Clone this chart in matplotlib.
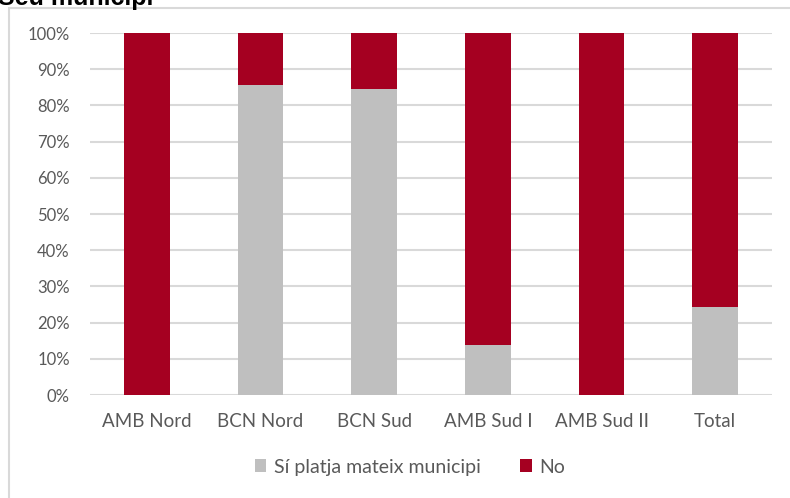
import numpy as np
import matplotlib.pyplot as plt
import matplotlib.patches as mpatches

categories = ['AMB Nord', 'BCN Nord', 'BCN Sud', 'AMB Sud I', 'AMB Sud II', 'Total']
si_platja = [0.0, 0.857, 0.845, 0.138, 0.0, 0.243]
no_platja = [1 - v for v in si_platja]
series_names = ['Sí platja mateix municipi', 'No']
colors = ['#BFBFBF', '#A50021']

plt.rcParams['font.family'] = ['Lato', 'DejaVu Sans']

W, H = 790, 498
fig = plt.figure(figsize=(W / 100, H / 100), dpi=100)

# chart frame (partly outside the picture)
frame = mpatches.Rectangle((9 / W, -0.2), 1.2, (H - 8) / H + 0.2, transform=fig.transFigure,
                           fill=False, edgecolor='#D9D9D9', linewidth=1.5)
fig.patches.append(frame)

# title cut off at the top, as in the original
fig.text(-2 / W, 1 - 5 / H, 'Seu municipi', fontsize=18, fontweight='bold',
         family=['Liberation Sans', 'DejaVu Sans'], color='black', va='baseline', ha='left')

ax = fig.add_axes([90 / W, (H - 395) / H, (772 - 90) / W, (395 - 33) / H])
x = np.arange(len(categories))
ax.bar(x, si_platja, width=0.4, color=colors[0], label=series_names[0], zorder=3)
ax.bar(x, no_platja, width=0.4, bottom=si_platja, color=colors[1], label=series_names[1], zorder=3)

ax.set_xlim(-0.5, len(categories) - 0.5)
ax.set_ylim(0, 1)
ticks = np.arange(0, 1.01, 0.1)
ax.set_yticks(ticks)
ax.set_yticklabels([f'{int(round(v * 100))}%' for v in ticks])
ax.set_xticks(x)
ax.set_xticklabels(categories)
ax.tick_params(length=0, colors='#595959')
ax.tick_params(axis='y', labelsize=12, pad=14.5)
ax.tick_params(axis='x', labelsize=13.5, pad=13)
ax.grid(axis='y', color='#D9D9D9', linewidth=1.5, zorder=0)
for s in ax.spines.values():
    s.set_visible(False)

leg = fig.legend(loc='center', bbox_to_anchor=(410 / W, 1 - 467 / H), ncol=2, frameon=False,
                 fontsize=14, handlelength=0.6, handleheight=0.6, columnspacing=2.0, handletextpad=0.4)
for t in leg.get_texts():
    t.set_color('#595959')

fig.savefig('out.png', dpi=100)
